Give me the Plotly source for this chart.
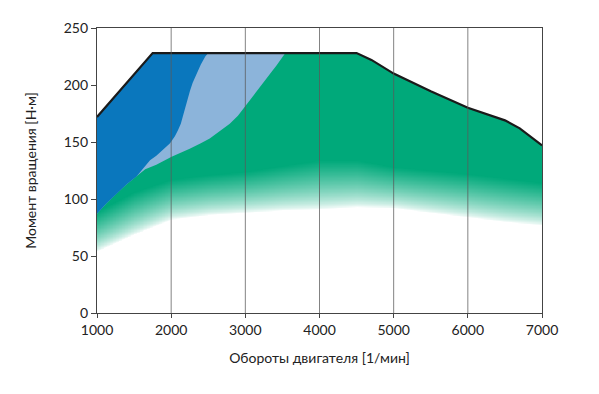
import numpy as np
import plotly.graph_objects as go

# ---- data ----
x_ticks = [1000, 2000, 3000, 4000, 5000, 6000, 7000]
y_ticks = [0, 50, 100, 150, 200, 250]

# envelope (max torque curve)
env_x = [1000, 1750, 4500, 4700, 5000, 5500, 6000, 6500, 6700, 7000]
env_y = [172, 228, 228, 222, 210, 194.5, 180, 169, 162, 147]

# upper boundary of the green area
green_x = [1000, 1125, 1250, 1400, 1535, 1650, 1800, 2006, 2250, 2400, 2520, 2650,
           2790, 2900, 3010, 3080, 3150, 3220, 3290, 3360, 3420, 3480, 3540]
green_y = [87, 96, 104, 113, 120, 126, 130, 137, 144, 149, 153, 159,
           166, 173, 182, 188, 194, 200, 206, 212, 217, 222, 228]

# boundary between dark blue and light blue
dark_x = [2500, 2460, 2400, 2344, 2290, 2254, 2220, 2190, 2160, 2130, 2090, 2050,
          1985, 1900, 1800, 1715, 1620, 1535]
dark_y = [228, 225, 218, 210, 202, 195, 188, 180, 173, 166, 160, 155,
          149, 144, 138, 134, 127, 120]

# fading lower band of the green area
fade_x = [1000, 1500, 2000, 2500, 3000, 3500, 4000, 4500, 5000, 5500, 6000, 6500, 7000]
fade_top = [89, 106, 117, 121, 124, 129, 134, 134, 128, 125, 122, 118, 114]
fade_bottom = [54, 69, 82, 86, 88, 90, 91, 93, 92, 88, 84, 80, 77]

GREEN_RGB = (0, 169, 122)
GREEN = "rgb(%d,%d,%d)" % GREEN_RGB
LIGHT_BLUE = "#8cb4da"
DARK_BLUE = "#0a77bd"

fig = go.Figure()

# fade band rendered as a smooth white->green image beneath the solid areas
gx = np.arange(x_ticks[0], x_ticks[-1] + 1, 20.0)
gy = np.arange(40.0, 145.0, 0.5)
top = np.interp(gx, fade_x, fade_top)
bot = np.interp(gx, fade_x, fade_bottom)
t = np.clip((gy[:, None] - bot[None, :]) / (top - bot)[None, :], 0, 1) ** 0.7
fig.add_trace(go.Heatmap(
    x=gx, y=gy, z=t, zmin=0, zmax=1, zsmooth="best", showscale=False,
    colorscale=[[0, "white"], [1, GREEN]], hoverinfo="skip"))

# solid green: from envelope down to the top of the fade band
fig.add_trace(go.Scatter(
    x=env_x + fade_x[::-1], y=env_y + fade_top[::-1],
    fill="toself", fillcolor=GREEN, line=dict(width=0), mode="lines",
    hoverinfo="skip", showlegend=False))

# light blue: envelope up to where green meets top, back along green boundary
lb_top_x = [v for v in env_x if v < green_x[-1]] + [green_x[-1]]
lb_top_y = [env_y[i] for i, v in enumerate(env_x) if v < green_x[-1]] + [green_y[-1]]
fig.add_trace(go.Scatter(
    x=lb_top_x + green_x[::-1], y=lb_top_y + green_y[::-1],
    fill="toself", fillcolor=LIGHT_BLUE, line=dict(width=0),
    mode="lines", hoverinfo="skip", showlegend=False))

# dark blue: envelope up to dark boundary, down boundary, back along green boundary
db_top_x = [v for v in env_x if v < dark_x[0]]
db_top_y = [env_y[i] for i, v in enumerate(env_x) if v < dark_x[0]]
g_low_x = [v for v in green_x if v < dark_x[-1]]
g_low_y = [green_y[i] for i, v in enumerate(green_x) if v < dark_x[-1]]
fig.add_trace(go.Scatter(
    x=db_top_x + dark_x + g_low_x[::-1], y=db_top_y + dark_y + g_low_y[::-1],
    fill="toself", fillcolor=DARK_BLUE, line=dict(width=0),
    mode="lines", hoverinfo="skip", showlegend=False))

# envelope outline
fig.add_trace(go.Scatter(
    x=env_x, y=env_y, mode="lines", line=dict(color="#1a1a1a", width=2.2),
    hoverinfo="skip", showlegend=False))

# vertical grid lines above the fills
for xv in x_ticks[1:-1]:
    fig.add_shape(type="line", xref="x", yref="y", x0=xv, x1=xv,
                  y0=y_ticks[0], y1=y_ticks[-1], layer="above",
                  line=dict(color="rgba(90,90,90,0.75)", width=1))

FONT = "Lato, 'Open Sans', sans-serif"
fig.update_layout(
    width=591, height=386,
    margin=dict(l=89, r=57, t=20, b=81),
    paper_bgcolor="white", plot_bgcolor="white",
    font=dict(family=FONT, color="#222", size=14),
    xaxis=dict(
        range=[x_ticks[0], x_ticks[-1]], tickvals=x_ticks,
        ticktext=[str(v) for v in x_ticks], automargin=False,
        showgrid=False, zeroline=False, showline=True, mirror=True,
        linecolor="#444", linewidth=1.3, ticks="outside", ticklen=4,
        tickcolor="#444", tickfont=dict(size=14),
        title=dict(text="Обороты двигателя [1/мин]", font=dict(size=14), standoff=16),
    ),
    yaxis=dict(
        range=[y_ticks[0], y_ticks[-1]], tickvals=y_ticks, automargin=False,
        showgrid=False, zeroline=False, showline=True, mirror=True,
        linecolor="#444", linewidth=1.3, ticks="outside", ticklen=5,
        tickcolor="#444", tickfont=dict(size=14),
        title=dict(text="Момент вращения [Н·м]", font=dict(size=14), standoff=23),
    ),
)

fig.write_html("out.html")
